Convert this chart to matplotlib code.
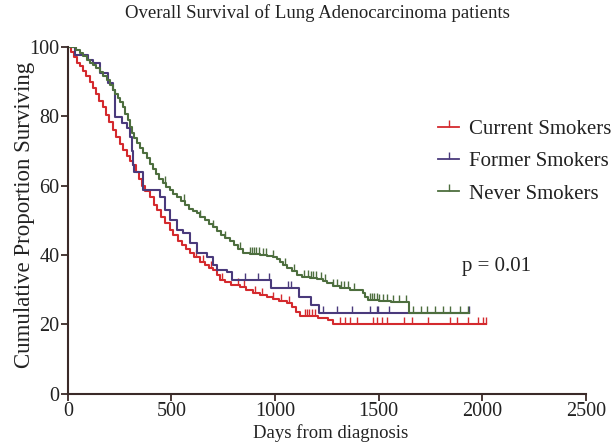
import numpy as np
import matplotlib
matplotlib.use('Agg')
import matplotlib.pyplot as plt
from matplotlib.lines import Line2D

plt.rcParams['font.family'] = ['Liberation Serif', 'DejaVu Serif']

# Kaplan-Meier step curves (day, % surviving)
current_t = [0, 15, 30, 45, 58, 75, 90, 105, 121, 135, 150, 169, 185, 200, 217, 232, 250, 265,
             285, 300, 314, 330, 345, 360, 375, 396, 415, 430, 450, 470, 492, 510, 530, 550,
             570, 589, 610, 637, 660, 680, 700, 720, 734, 760, 790, 830, 860, 895, 930, 960,
             990, 1020, 1057, 1080, 1100, 1120, 1206, 1255, 1280, 2017]
current_s = [100, 98.5, 97, 95.5, 94.5, 93, 91.5, 90, 88.2, 86.5, 84.5, 82.7, 80.5, 78.5, 76.1,
             74, 72, 70.3, 68.5, 67.2, 66, 64, 62, 60, 58.5, 56.8, 54.5, 53, 51, 49.2, 47.3,
             45.8, 44.2, 43, 41.8, 40.6, 39.5, 38.1, 37, 36.3, 35.7, 34.2, 32.9, 32.2, 31.5,
             30.8, 30, 29.2, 28.6, 28, 27.4, 26.8, 26.2, 25, 23.5, 22.3, 21.9, 21.2, 20.2, 20.2]
current_cens = [620, 655, 690, 745, 820, 850, 905, 935, 990, 1030, 1070, 1144, 1155, 1165, 1180,
                1195, 1313, 1337, 1361, 1395, 1472, 1491, 1515, 1540, 1621, 1660, 1737, 1843,
                1877, 1930, 1979, 2003, 2017]

former_t = [0, 35, 98, 121, 154, 193, 217, 227, 261, 285, 299, 309, 315, 320, 362, 444, 468,
            492, 526, 555, 589, 623, 671, 700, 719, 767, 791, 979, 1115, 1176, 1211, 1935]
former_s = [100, 97.7, 96.2, 95.4, 92.5, 89.6, 87.6, 79.8, 78.1, 76.7, 74.1, 70, 66, 64, 58.8,
            56.8, 53, 50.1, 47.3, 46.4, 43.5, 40.6, 39.5, 37.2, 35.7, 35.2, 32.9, 30.6, 28,
            25.6, 23.2, 23.2]
former_cens = [854, 918, 970, 1062, 1077, 1231, 1298, 1371, 1457, 1491, 1496, 1549, 1935]

never_t = [0, 40, 58, 75, 92, 107, 121, 138, 154, 170, 188, 203, 217, 230, 241, 253, 265, 278,
           290, 300, 309, 320, 333, 347, 362, 380, 396, 410, 425, 442, 458, 475, 492, 510, 526,
           545, 565, 585, 605, 623, 640, 660, 680, 700, 720, 740, 760, 782, 800, 820, 845, 880,
           927, 960, 989, 1010, 1025, 1038, 1060, 1080, 1105, 1130, 1168, 1201, 1230, 1250,
           1280, 1313, 1360, 1424, 1436, 1448, 1500, 1560, 1646, 1935]
never_s = [100, 99.2, 98.3, 97.3, 96.3, 95.5, 94.8, 93.8, 92.8, 91.6, 90.5, 89, 87.6, 86.4,
           85.3, 84, 82.7, 80.8, 79, 77, 75.2, 73.7, 72.3, 70.8, 69.5, 68, 66.3, 64.8, 63.5, 62,
           60.8, 59.7, 58.8, 57.7, 56.8, 55.6, 54.4, 53.4, 52.6, 52, 51, 50, 49, 48.1, 46.8,
           45.8, 45, 44.2, 43, 41.8, 40.6, 40.3, 40, 39.7, 39.4, 38.8, 38, 37.2, 36.3, 35.5,
           34.3, 33.8, 33.4, 33.2, 32.6, 32, 31.2, 30.4, 29.8, 29.1, 28, 27.1, 26.8, 26.5,
           23.2, 23.2]
never_cens = [470, 560, 640, 700, 760, 830, 880, 890, 900, 910, 925, 940, 955, 990, 1050, 1090,
              1140, 1160, 1175, 1185, 1200, 1220, 1240, 1280, 1300, 1320, 1335, 1350, 1380,
              1460, 1470, 1480, 1490, 1500, 1520, 1540, 1570, 1600, 1630, 1665, 1704, 1733,
              1771, 1810, 1843, 1892, 1930]

groups = [
    ("Current Smokers", current_t, current_s, current_cens, "#d42a2e"),
    ("Former Smokers", former_t, former_s, former_cens, "#4a3a7c"),
    ("Never Smokers", never_t, never_s, never_cens, "#4d6e3e"),
]

fig = plt.figure(figsize=(6.16, 4.43), dpi=100)
ax = fig.add_axes([0.110, 0.111, 0.841, 0.783])
axis_col = "#3a2a28"
txt_col = "#222222"

handles = []
for name, t, s, cens, col in groups:
    t = np.array(t, dtype=float)
    s = np.array(s, dtype=float)
    ax.step(t, s, where='post', color=col, lw=1.5)
    # censoring ticks sit on the curve at each censor time
    c = np.array(cens, dtype=float)
    idx = np.searchsorted(t, c, side='right') - 1
    ax.plot(c, s[idx], ls='none', marker=2, ms=5, mew=1.0, color=col)
    handles.append(Line2D([], [], color=col, lw=1.3, marker=2, ms=5, mew=1.0))

ax.set_xlim(0, 2500)
ax.set_ylim(0, 100)
ax.set_xticks([0, 500, 1000, 1500, 2000, 2500])
ax.set_yticks([0, 20, 40, 60, 80, 100])
for sp in ['top', 'right']:
    ax.spines[sp].set_visible(False)
for sp in ['left', 'bottom']:
    ax.spines[sp].set_color(axis_col)
    ax.spines[sp].set_linewidth(1.5)
ax.tick_params(direction='out', length=5, width=1.3, color=axis_col, labelsize=14.5,
               labelcolor=txt_col, pad=1)

ax.set_xlabel("Days from diagnosis", fontsize=13.5, color=txt_col)
ax.xaxis.set_label_coords(0.508, -0.086)
ax.set_ylabel("Cumulative Proportion Surviving", fontsize=16.5, color=txt_col)
ax.yaxis.set_label_coords(-0.064, 0.515)
fig.suptitle("Overall Survival of Lung Adenocarcinoma patients", fontsize=13.5,
             x=0.516, y=0.99, color=txt_col)

ax.text(1901, 36.8, "p = 0.01", fontsize=15, ha='left', va='center', color=txt_col)

leg = ax.legend(handles, [g[0] for g in groups], loc='upper left',
                bbox_to_anchor=(0.715, 0.79), frameon=False, fontsize=15,
                handlelength=1.0, handletextpad=0.5, labelspacing=0.6,
                borderaxespad=0, borderpad=0)
for txt in leg.get_texts():
    txt.set_color(txt_col)

fig.savefig("out.png", dpi=100)
